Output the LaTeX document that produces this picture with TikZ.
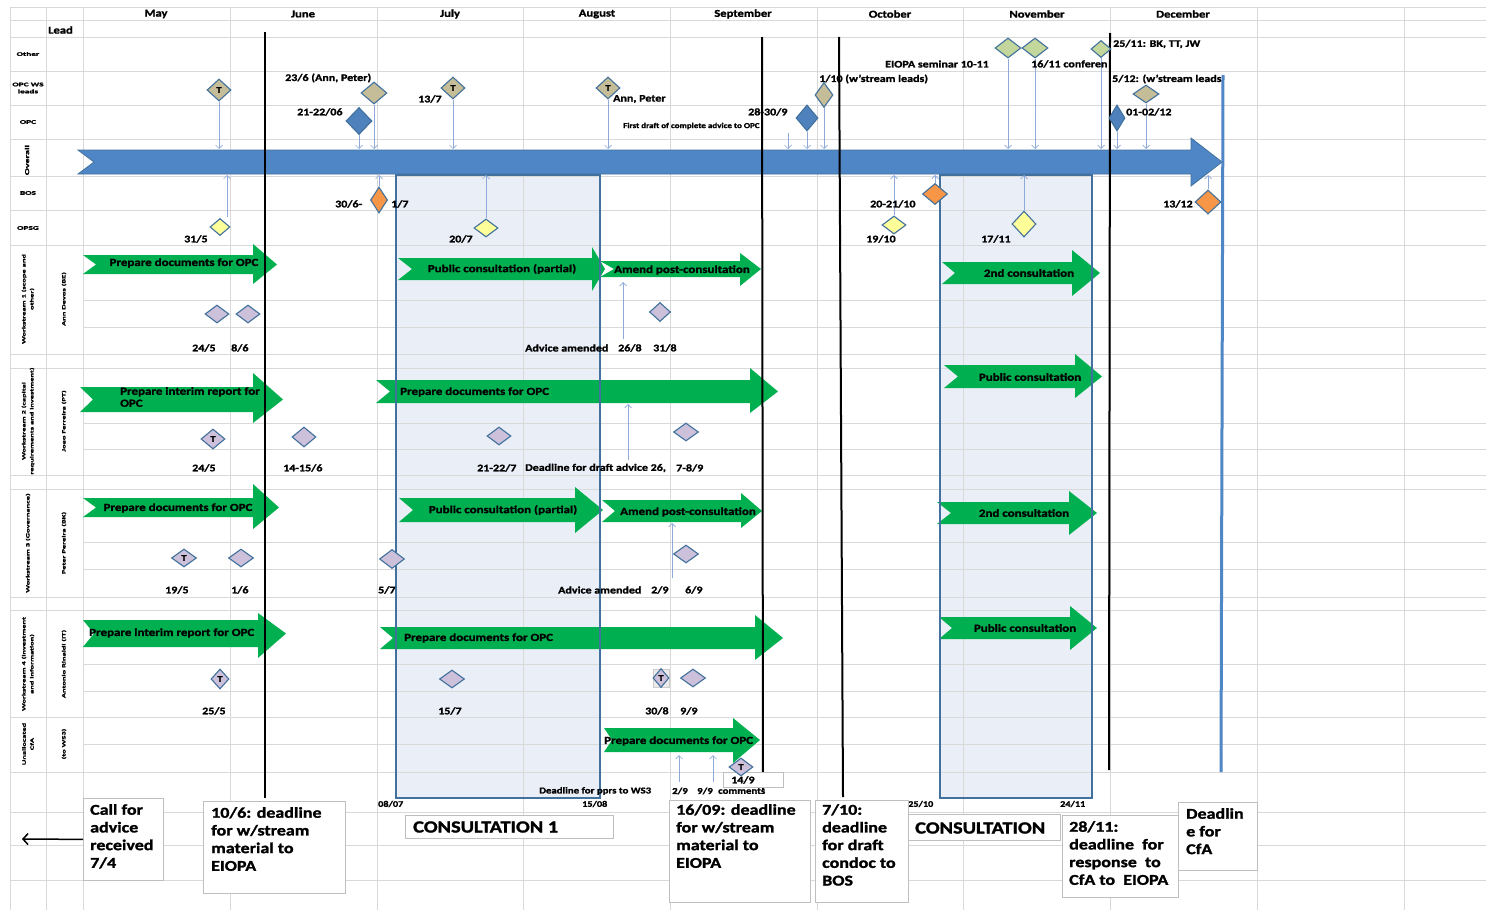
\documentclass[tikz,border=0pt]{standalone}
\usepackage{fontspec}
\setmainfont{Carlito}[FakeStretch=1.2, BoldFeatures={FakeBold=1.5}]
\newfontfamily\wfont{Carlito}[FakeStretch=1.7, BoldFeatures={FakeBold=1.5}]
\usetikzlibrary{shapes.geometric,arrows.meta}
\definecolor{gridc}{HTML}{D9D9D9}
\definecolor{ovblue}{HTML}{4F86C6}
\definecolor{edgeb}{HTML}{41719C}
\definecolor{gfill}{HTML}{00B050}
\definecolor{boxfill}{HTML}{EAEFF7}
\definecolor{lav}{HTML}{CCC0DA}
\definecolor{tanc}{HTML}{C4BD97}
\definecolor{dblue}{HTML}{4F81BD}
\definecolor{orng}{HTML}{F79646}
\definecolor{yel}{HTML}{FFFF99}
\definecolor{lgreen}{HTML}{C3D69B}
\definecolor{conc}{HTML}{8EAADB}
\newcommand\garr[8]{\fill[gfill] (#1,#3) -- (#5,#3) -- (#5,#6) -- (#8,{(#3+#4)/2}) -- (#5,#7) -- (#5,#4) -- (#1,#4) -- (#2,{(#3+#4)/2}) -- cycle;}
\tikzset{
  gridl/.style={draw=gridc, line width=0.8pt},
  dia/.style={diamond, draw=edgeb, line width=1.1pt, inner sep=0pt, font=\bfseries\fontsize{9}{9}\selectfont},
  dsz/.style 2 args={minimum width=#1pt, minimum height=#2pt},
  conn/.style={draw=conc, line width=0.7pt, -{Straight Barb[length=3.5pt,width=7pt]}},
  dl/.style={font=\bfseries\fontsize{10}{11}\selectfont, inner sep=0pt, anchor=west},
  sl/.style={font=\bfseries\fontsize{8.5}{9}\selectfont, inner sep=0pt, anchor=west},
  gt/.style={font=\bfseries\fontsize{10.8}{12}\selectfont, inner sep=0pt},
  hdr/.style={font=\bfseries\fontsize{10.5}{12}\selectfont, inner sep=0pt},
  rl/.style={font=\wfont\bfseries\fontsize{5.5}{7}\selectfont, inner sep=0pt, align=center},
  rr/.style={font=\wfont\bfseries\fontsize{5}{8}\selectfont, inner sep=0pt, align=center, rotate=90},
  bxs/.style={draw=black!25, fill=white, line width=0.8pt, anchor=north west, inner sep=0pt},
  bxt/.style={font=\bfseries\fontsize{15}{17.7}\selectfont, anchor=north west, inner sep=0pt, align=left},
  bxc/.style={font=\bfseries\fontsize{17}{18}\selectfont, anchor=west, inner sep=0pt},
  blk/.style={line width=2pt, black},
  cons/.style={draw=edgeb, line width=1.3pt}
}
\begin{document}
\begin{tikzpicture}[x=1pt,y=-1pt]
\useasboundingbox (0,0) rectangle (1486,910);
\fill[white] (0,0) rectangle (1486,910);
% consultation fills
\fill[boxfill] (396,175) rectangle (600,798);
\fill[boxfill] (940,175) rectangle (1092,798);
% grid
\foreach \x in {10,46,83,230,377,523,670,817,963,1110,1257,1404} \draw[gridl] (\x,7) -- (\x,910);
\foreach \y in {7,20,37,71,105,139,176,210,245,354,368,475,489,597,610,717,772,812,845,880} \draw[gridl] (10,\y) -- (1486,\y);
\foreach \y in {300,327,423,449,542,569,664,691,744} \draw[gridl] (83,\y) -- (1486,\y);
% header texts
\node[hdr] (mMay) at (156,14) {May};
\node[hdr] (mJun) at (303,14) {June};
\node[hdr] (mJul) at (450,14) {July};
\node[hdr] (mAug) at (597,14) {August};
\node[hdr] (mSep) at (743,14) {September};
\node[hdr] (mOct) at (890,14) {October};
\node[hdr] (mNov) at (1037,14) {November};
\node[hdr] (mDec) at (1183,14) {December};
\node[hdr, anchor=west] (lead) at (48,30) {Lead};
% row labels
\node[rl] (rOther) at (28,54) {Other};
\node[rl] (rLeads) at (28,88) {OPC WS\\leads};
\node[rl] (rOPC) at (28,122) {OPC};
\node[rl, rotate=90, font=\wfont\bfseries\fontsize{6}{7}\selectfont] (rOverall) at (27,160) {Overall};
\node[rl] (rBOS) at (28,193) {BOS};
\node[rl] (rOPSG) at (28,228) {OPSG};
\node[rr] (ws1) at (28,299) {Workstream 1 (scope and\\other)};
\node[rr] (ws1l) at (64,299) {Ann Devos (BE)};
\node[rr] (ws2) at (28,421) {Workstream 2 (capital\\requirements and investment)};
\node[rr] (ws2l) at (64,421) {Joao Ferreira (PT)};
\node[rr] (ws3) at (28,543) {Workstream 3 (Governance)};
\node[rr] (ws3l) at (64,543) {Peter Pereira (BK)};
\node[rr] (ws4) at (28,664) {Workstream 4 (investment\\and information)};
\node[rr] (ws4l) at (64,664) {Antonio Rinaldi (IT)};
\node[rr] (ws5) at (28,744) {Unallocated\\CfA};
\node[rr] (ws5l) at (64,744) {(to WS3)};
% overall arrow
\filldraw[fill=ovblue, draw=edgeb, line width=0.8pt] (78,150) -- (1191,150) -- (1191,138) -- (1222,162) -- (1191,186) -- (1191,174) -- (78,174) -- (94,162) -- cycle;
\coordinate (ovt) at (0,149);
\coordinate (ovb) at (0,175);
% green arrows
\garr{83}{96}{255}{274}{253}{244}{284}{277}
\garr{398}{412}{258}{280}{592}{247}{291}{605}
\garr{600}{614}{261}{277}{740}{253}{286}{761}
\garr{942}{955}{262}{284}{1072}{250}{296}{1100}
\garr{80}{93}{387}{412}{253}{373}{423}{283}
\garr{376}{390}{380}{403}{750}{368}{413}{778}
\garr{944}{958}{365}{388}{1075}{354}{398}{1102}
\garr{83}{96}{498}{517}{253}{484}{529}{279}
\garr{399}{413}{498}{522}{575}{487}{533}{603}
\garr{602}{615}{500}{522}{741}{493}{528}{762}
\garr{937}{951}{502}{524}{1069}{491}{535}{1097}
\garr{83}{94}{620}{647}{258}{613}{658}{286}
\garr{380}{393}{627}{649}{755}{615}{660}{783}
\garr{939}{952}{617}{639}{1070}{606}{650}{1097}
\garr{604}{612}{728}{752}{733}{718}{763}{760}
% consultation borders
\draw[cons] (396,175) rectangle (600,798);
\draw[cons] (940,175) rectangle (1092,798);
% black lines
\draw[blk] (265,32) -- (265,798);
\draw[blk] (762,37) -- (763,790);
\draw[blk] (839,37) -- (843,797);
\draw[blk] (1110,33) -- (1109,770);
\draw[ovblue, line width=3pt] (1223,75) -- (1221,772);
% green arrow texts
\node[gt] (ga1) at (184,263) {Prepare documents for OPC};
\node[gt] (ga2) at (502,269) {Public consultation (partial)};
\node[gt] (ga3) at (682,270) {Amend post-consultation};
\node[gt] (ga4) at (1029,273) {2nd consultation};
\node[gt, anchor=west, align=left, font=\bfseries\fontsize{10.8}{12}\selectfont] (gb1) at (120,397) {Prepare interim report for\\OPC};
\node[gt, anchor=west] (gb2) at (400,392) {Prepare documents for OPC};
\node[gt] (gb3) at (1030,377) {Public consultation};
\node[gt] (gc1) at (178,508) {Prepare documents for OPC};
\node[gt] (gc2) at (503,510) {Public consultation (partial)};
\node[gt] (gc3) at (688,512) {Amend post-consultation};
\node[gt] (gc4) at (1024,513) {2nd consultation};
\node[gt, anchor=west] (gd1) at (89,633) {Prepare interim report for OPC};
\node[gt, anchor=west] (gd2) at (404,638) {Prepare documents for OPC};
\node[gt] (gd3) at (1025,628) {Public consultation};
\node[gt, anchor=west] (ge1) at (604,741) {Prepare documents for OPC};
% small boxes
\draw[black!20, fill=black!8, line width=0.5pt] (653,669) rectangle (669,687);
\node[draw=black!25, fill=white, line width=0.6pt, minimum width=60pt, minimum height=15pt, anchor=north west, inner sep=0pt] (b149) at (723,772) {};
% diamonds: other
\node[dia, fill=lgreen, dsz={26}{20}] (o1) at (1008,48) {};
\node[dia, fill=lgreen, dsz={26}{20}] (o2) at (1035,48) {};
\node[dia, fill=lgreen, dsz={20}{17}] (o3) at (1101,49) {};
% leads
\node[dia, fill=tanc, dsz={24}{22}] (l1) at (219,90) {T};
\node[dia, fill=tanc, dsz={26}{22}] (l2) at (374,93) {};
\node[dia, fill=tanc, dsz={24}{22}] (l3) at (453,88) {T};
\node[dia, fill=tanc, dsz={24}{22}] (l4) at (608,88) {T};
\node[dia, fill=tanc, dsz={18}{25}] (l5) at (824,95) {};
\node[dia, fill=tanc, dsz={26}{18}] (l6) at (1146,94) {};
% OPC
\node[dia, fill=dblue, dsz={26}{27}] (p1) at (359,121) {};
\node[dia, fill=dblue, dsz={22}{26}] (p2) at (807,118) {};
\node[dia, fill=dblue, dsz={16}{26}] (p3) at (1117,118) {};
% BOS
\node[dia, fill=orng, dsz={17}{26}] (b1) at (379,200) {};
\node[dia, fill=orng, dsz={25}{21}] (b2) at (935,194) {};
\node[dia, fill=orng, dsz={26}{24}] (b3) at (1208,202) {};
% OPSG
\node[dia, fill=yel, dsz={20}{17}] (s1) at (220,227) {};
\node[dia, fill=yel, dsz={24}{18}] (s2) at (486,228) {};
\node[dia, fill=yel, dsz={24}{18}] (s3) at (894,225) {};
\node[dia, fill=yel, dsz={24}{26}] (s4) at (1024,224) {};
% WS diamonds
\node[dia, fill=lav, dsz={24}{18}] (w1a) at (217,314) {};
\node[dia, fill=lav, dsz={24}{18}] (w1b) at (248,314) {};
\node[dia, fill=lav, dsz={21}{19}] (w1c) at (660,312) {};
\node[dia, fill=lav, dsz={24}{20}] (w2a) at (213,439) {T};
\node[dia, fill=lav, dsz={24}{20}] (w2b) at (304,437) {};
\node[dia, fill=lav, dsz={24}{18}] (w2c) at (499,436) {};
\node[dia, fill=lav, dsz={25}{18}] (w2d) at (686,432) {};
\node[dia, fill=lav, dsz={25}{18}] (w3a) at (184,558) {T};
\node[dia, fill=lav, dsz={25}{18}] (w3b) at (241,558) {};
\node[dia, fill=lav, dsz={25}{19}] (w3c) at (392,559) {};
\node[dia, fill=lav, dsz={25}{18}] (w3d) at (686,554) {};
\node[dia, fill=lav, dsz={18}{20}] (w4a) at (220,679) {T};
\node[dia, fill=lav, dsz={25}{18}] (w4b) at (452,679) {};
\node[dia, fill=lav, dsz={16}{19}] (w4c) at (661,678) {T};
\node[dia, fill=lav, dsz={25}{18}] (w4d) at (693,678) {};
\node[dia, fill=lav, dsz={24}{18}] (u1) at (741,767) {T};
% connectors down
\draw[conn] (l1.south) -- (l1.south |- ovt);
\draw[conn] (p1.south) -- (p1.south |- ovt);
\draw[conn] (l2.south) -- (l2.south |- ovt);
\draw[conn] (l3.south) -- (l3.south |- ovt);
\draw[conn] (l4.south) -- (l4.south |- ovt);
\coordinate (fd) at (788,133);
\draw[conn] (fd) -- (fd |- ovt);
\draw[conn] (p2.south) -- (p2.south |- ovt);
\draw[conn] (l5.south) -- (l5.south |- ovt);
\draw[conn] (o1.south) -- (o1.south |- ovt);
\draw[conn] (o2.south) -- (o2.south |- ovt);
\draw[conn] (o3.south) -- (o3.south |- ovt);
\draw[conn] (p3.south) -- (p3.south |- ovt);
\draw[conn] (l6.south) -- (l6.south |- ovt);
% connectors up
\coordinate (s1c) at (227,217);
\draw[conn] (s1c) -- (s1c |- ovb);
\draw[conn] (b1.north) -- (b1.north |- ovb);
\draw[conn] (s2.north) -- (s2.north |- ovb);
\draw[conn] (s3.north) -- (s3.north |- ovb);
\draw[conn] (b2.north) -- (b2.north |- ovb);
\draw[conn] (s4.north) -- (s4.north |- ovb);
\draw[conn] (b3.north) -- (b3.north |- ovb);
% connectors in workstreams
\coordinate (c1s) at (623,339); \coordinate (c1e) at (623,282);
\draw[conn] (c1s) -- (c1e);
\coordinate (c2s) at (628,460); \coordinate (c2e) at (628,404);
\draw[conn] (c2s) -- (c2e);
\coordinate (c3s) at (672,578); \coordinate (c3e) at (672,523);
\draw[conn] (c3s) -- (c3e);
\coordinate (c4s) at (679,782); \coordinate (c4e) at (679,755);
\draw[conn] (c4s) -- (c4e);
\coordinate (c5s) at (713,782); \coordinate (c5e) at (713,755);
\draw[conn] (c5s) -- (c5e);
% top labels
\node[dl] (t1) at (285,78) {23/6 (Ann, Peter)};
\node[dl] (t2) at (418,99) {13/7};
\node[dl] (t3) at (613,99) {Ann, Peter};
\node[dl] (t4) at (297,112) {21-22/06};
\node[dl] (t5) at (748,112) {28-30/9};
\node[dl, font=\bfseries\fontsize{7.5}{8}\selectfont] (t6) at (623,126) {First draft of complete advice to OPC};
\node[dl] (t7) at (819,79) {1/10 (w'stream leads)};
\node[dl] (t8) at (885,64) {EIOPA seminar 10-11};
\node[dl] (t9) at (1031,64) {16/11 conferen};
\node[dl] (t10) at (1113,44) {25/11: BK, TT, JW};
\node[dl] (t11) at (1112,79) {5/12: (w'stream leads};
\node[dl] (t12) at (1126,112) {01-02/12};
\node[dl] (t13) at (335,204) {30/6-};
\node[dl] (t14) at (391,204) {1/7};
\node[dl] (t15) at (870,204) {20-21/10};
\node[dl] (t16) at (1163,204) {13/12};
\node[dl] (t17) at (184,239) {31/5};
\node[dl] (t18) at (449,239) {20/7};
\node[dl] (t19) at (866,239) {19/10};
\node[dl] (t20) at (981,239) {17/11};
% WS1 labels
\node[dl] (a1) at (192,348) {24/5};
\node[dl] (a2) at (231,348) {8/6};
\node[dl] (a3) at (525,348) {Advice amended};
\node[dl] (a4) at (618,348) {26/8};
\node[dl] (a5) at (653,348) {31/8};
% WS2 labels
\node[dl] (a6) at (192,468) {24/5};
\node[dl] (a7) at (283,468) {14-15/6};
\node[dl] (a8) at (477,468) {21-22/7};
\node[dl] (a9) at (525,468) {Deadline for draft advice 26,};
\node[dl] (a10) at (676,468) {7-8/9};
% WS3 labels
\node[dl] (a11) at (165,590) {19/5};
\node[dl] (a12) at (231,590) {1/6};
\node[dl] (a13) at (378,590) {5/7};
\node[dl] (a14) at (558,590) {Advice amended};
\node[dl] (a15) at (651,590) {2/9};
\node[dl] (a16) at (685,590) {6/9};
% WS4 labels
\node[dl] (a17) at (202,711) {25/5};
\node[dl] (a18) at (438,711) {15/7};
\node[dl] (a19) at (645,711) {30/8};
\node[dl] (a20) at (680,711) {9/9};
% unallocated labels
\node[dl] (a21) at (731,780) {14/9};
\node[sl, font=\bfseries\fontsize{9}{9}\selectfont] (a22) at (539,791) {Deadline for pprs to WS3};
\node[sl, font=\bfseries\fontsize{9}{9}\selectfont] (a23) at (672,791) {2/9};
\node[sl, font=\bfseries\fontsize{9}{9}\selectfont] (a24) at (697,791) {9/9};
\node[sl, font=\bfseries\fontsize{9}{9}\selectfont] (a25) at (718,791) {comments};
% date markers under boxes
\node[sl] (d1) at (378,804) {08/07};
\node[sl] (d2) at (582,804) {15/08};
\node[sl] (d3) at (908,804) {25/10};
\node[sl] (d4) at (1060,804) {24/11};
% bottom boxes
\node[bxs, minimum width=80pt, minimum height=82pt] (bx1) at (83,798) {};
\node[bxt] (bx1t) at (90,804) {Call for\\advice\\received\\7/4};
\node[bxs, minimum width=142pt, minimum height=92pt] (bx2) at (203,801) {};
\node[bxt] (bx2t) at (211,807) {10/6: deadline\\for w/stream\\material to\\EIOPA};
\node[bxs, minimum width=208pt, minimum height=23pt] (bx3) at (405,815) {};
\node[bxc] (bx3t) at (413,827) {CONSULTATION 1};
\node[bxs, minimum width=141pt, minimum height=102pt] (bx4) at (669,800) {};
\node[bxt] (bx4t) at (676,804) {16/09: deadline\\for w/stream\\material to\\EIOPA};
\node[bxs, minimum width=93pt, minimum height=102pt] (bx5) at (815,800) {};
\node[bxt] (bx5t) at (822,804) {7/10:\\deadline\\for draft\\condoc to\\BOS};
\node[bxs, minimum width=152pt, minimum height=26pt] (bx6) at (908,814) {};
\node[bxc] (bx6t) at (915,828) {CONSULTATION};
\node[bxs, minimum width=116pt, minimum height=82pt] (bx7) at (1062,815) {};
\node[bxt] (bx7t) at (1069,821) {28/11:\\deadline~ for\\response~ to\\CfA to~ EIOPA};
\node[bxs, minimum width=79pt, minimum height=68pt] (bx8) at (1178,802) {};
\node[bxt] (bx8t) at (1186,808) {Deadlin\\e for\\CfA};
\coordinate (cfaend) at (22,839);
\draw[line width=1.5pt, -{Straight Barb[length=5pt,width=11pt]}] (bx1.west) -- (cfaend);
\end{tikzpicture}
\end{document}
